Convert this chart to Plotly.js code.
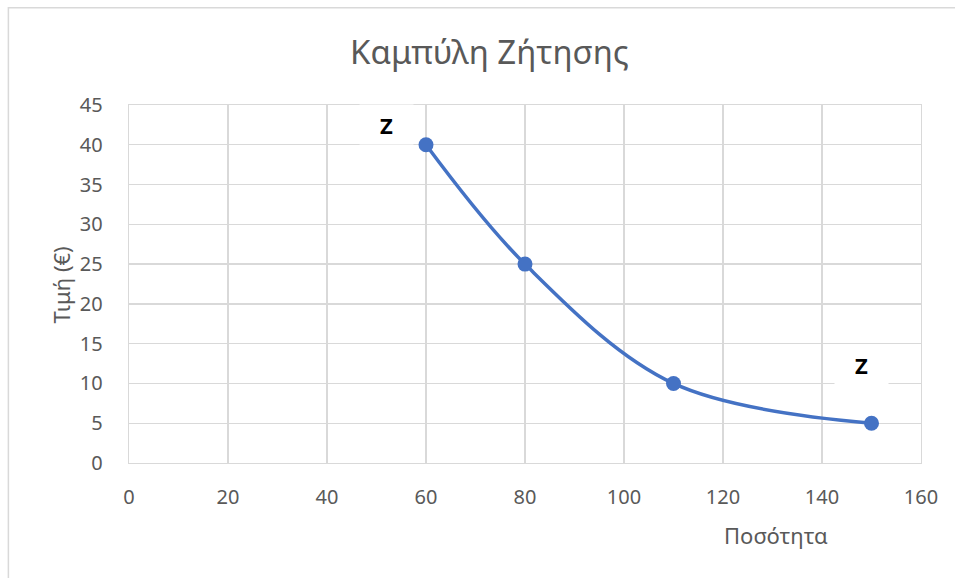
<!DOCTYPE html>
<html>
<head>
<meta charset="utf-8">
<script src="https://cdn.plot.ly/plotly-3.0.1.min.js"></script>
<style>
  html, body { margin: 0; padding: 0; background: #ffffff; }
  #chart { width: 955px; height: 578px; }
</style>
</head>
<body>
<div id="chart"></div>
<script>
// Data
const quantity = [60, 80, 110, 150];
const price = [40, 25, 10, 5];
const pointLabels = ["Z", "", "", "Z"];
const chartTitle = "Καμπύλη Ζήτησης";
const xTitle = "Ποσότητα";
const yTitle = "Τιμή (€)";

const FONT = '"Noto Sans", "DejaVu Sans", sans-serif';
const GREY = '#595959';
const GRID = '#d9d9d9';
const BLUE = '#4472C4';

// label offsets (pixels) relative to the point they belong to
const labelShifts = [[-40, 20], null, null, [-10, 59]];

const annotations = [];
pointLabels.forEach((t, i) => {
  if (!t) return;
  annotations.push({
    x: quantity[i], y: price[i], xref: 'x', yref: 'y',
    text: '<b>' + t + '</b>', showarrow: false,
    xshift: labelShifts[i][0], yshift: labelShifts[i][1],
    width: 53, height: 39, bgcolor: '#ffffff', borderpad: 0,
    font: { family: FONT, size: 22, color: '#000000' }
  });
});
annotations.push({
  text: xTitle, xref: 'paper', yref: 'paper',
  x: 0.8167, y: -0.2006, xanchor: 'center', yanchor: 'middle',
  showarrow: false, font: { family: FONT, size: 22, color: GREY }
});
annotations.push({
  text: yTitle, xref: 'paper', yref: 'paper', textangle: -90,
  x: -0.086, y: 0.4986, xanchor: 'center', yanchor: 'middle',
  showarrow: false, font: { family: FONT, size: 22, color: GREY }
});

const trace = {
  x: quantity, y: price, type: 'scatter', mode: 'lines+markers',
  line: { color: BLUE, width: 3.5, shape: 'spline', smoothing: 1 },
  marker: { color: BLUE, size: 15 },
  hoverinfo: 'x+y'
};

const layout = {
  width: 955, height: 578,
  margin: { l: 129, r: 34, t: 105, b: 115 },
  paper_bgcolor: '#ffffff', plot_bgcolor: '#ffffff',
  showlegend: false,
  title: {
    text: chartTitle, x: 0.5125, xanchor: 'center', y: 0.91, yanchor: 'middle',
    font: { family: FONT, size: 33, color: GREY }
  },
  xaxis: {
    range: [0, 160], dtick: 20, tick0: 0,
    showgrid: true, gridcolor: GRID, gridwidth: 1.3,
    showline: true, linecolor: GRID, linewidth: 1.3, mirror: true,
    zeroline: false, ticks: '',
    ticklabelstandoff: 16,
    tickfont: { family: FONT, size: 20, color: GREY }
  },
  yaxis: {
    range: [0, 45], dtick: 5, tick0: 0,
    showgrid: true, gridcolor: GRID, gridwidth: 1.3,
    showline: true, linecolor: GRID, linewidth: 1.3, mirror: true,
    zeroline: false, ticks: '',
    ticklabelstandoff: 21,
    tickfont: { family: FONT, size: 20, color: GREY }
  },
  annotations: annotations,
  shapes: [{
    type: 'rect', xref: 'paper', yref: 'paper',
    x0: -0.1523, x1: 2, y0: -2, y1: 1.2716,
    line: { color: GRID, width: 1.5 }, fillcolor: 'rgba(0,0,0,0)', layer: 'below'
  }]
};

Plotly.newPlot('chart', [trace], layout, { displayModeBar: false, staticPlot: true });
</script>
</body>
</html>
